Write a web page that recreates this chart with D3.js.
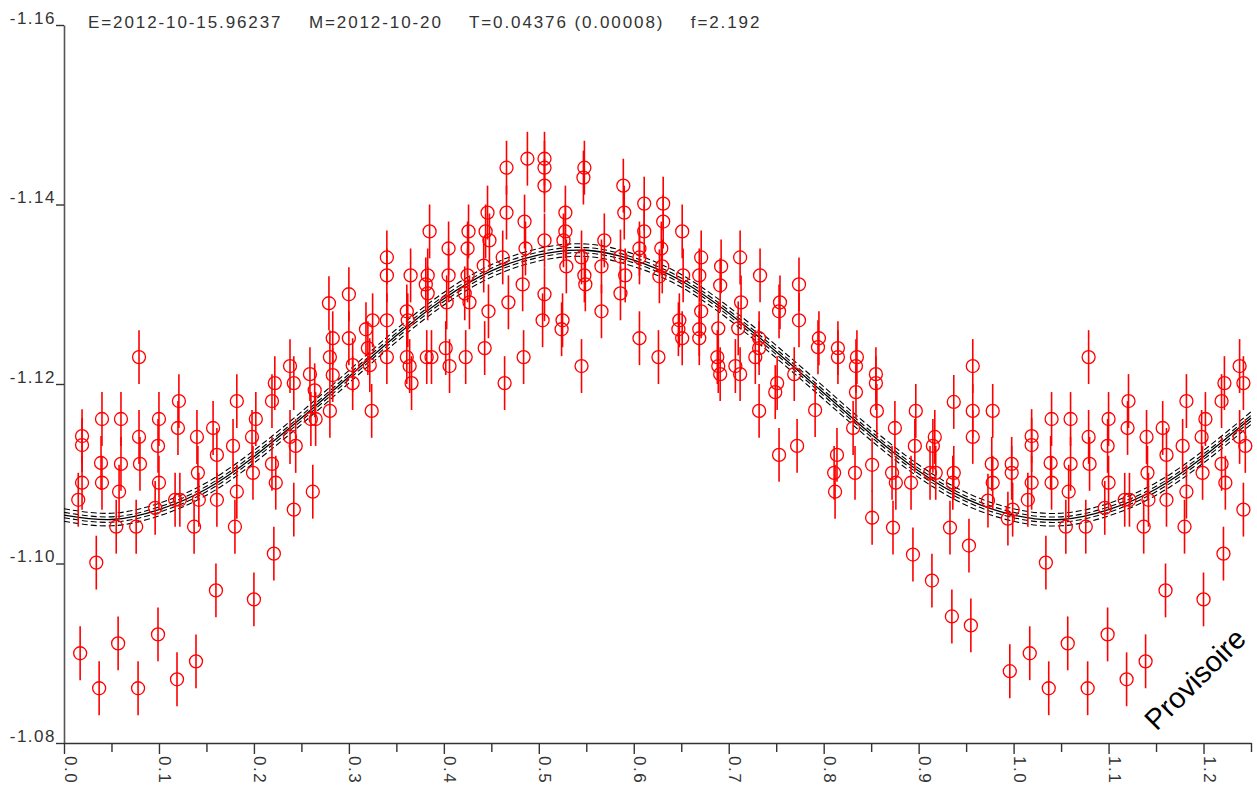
<!DOCTYPE html>
<html>
<head>
<meta charset="utf-8">
<script src="https://cdn.jsdelivr.net/npm/d3@7"></script>
<style>
body { margin: 0; background: #fff; }
svg { display: block; font-family: "Liberation Sans", Arial, sans-serif; }
</style>
</head>
<body>
<div id="vis"></div>
<script>
// phase of each measurement (one cycle, 0..1)
var phases = [
  0.015,0.017,0.019,0.019,0.019,0.034,0.037,0.040,0.039,0.040,
  0.055,0.057,0.060,0.060,0.058,0.076,0.078,0.079,0.079,0.080,
  0.096,0.099,0.100,0.099,0.100,0.119,0.117,0.122,0.121,0.120,
  0.137,0.139,0.140,0.141,0.142,0.157,0.161,0.161,0.160,0.178,
  0.182,0.180,0.182,0.198,0.199,0.202,0.200,0.219,0.219,0.222,
  0.223,0.221,0.238,0.242,0.238,0.244,0.242,0.259,0.264,0.260,
  0.265,0.262,0.279,0.283,0.280,0.283,0.280,0.300,0.300,0.304,
  0.304,0.318,0.325,0.320,0.322,0.324,0.340,0.340,0.340,0.340,
  0.361,0.362,0.365,0.361,0.364,0.366,0.383,0.381,0.383,0.382,
  0.387,0.385,0.405,0.405,0.403,0.402,0.406,0.426,0.425,0.425,
  0.422,0.427,0.423,0.446,0.444,0.448,0.442,0.447,0.443,0.466,
  0.466,0.462,0.468,0.464,0.488,0.485,0.486,0.483,0.484,0.506,
  0.506,0.506,0.506,0.506,0.504,0.528,0.528,0.526,0.529,0.525,
  0.524,0.548,0.547,0.545,0.548,0.549,0.545,0.569,0.566,0.566,
  0.589,0.590,0.586,0.591,0.586,0.611,0.611,0.606,0.606,0.606,
  0.631,0.631,0.629,0.630,0.627,0.626,0.651,0.652,0.648,0.647,
  0.651,0.671,0.669,0.671,0.669,0.669,0.692,0.691,0.689,0.688,
  0.689,0.691,0.712,0.713,0.710,0.707,0.712,0.733,0.732,0.732,
  0.728,0.732,0.754,0.753,0.751,0.749,0.753,0.774,0.774,0.769,
  0.772,0.795,0.794,0.791,0.815,0.815,0.814,0.811,0.812,0.835,
  0.834,0.834,0.831,0.833,0.851,0.851,0.855,0.855,0.856,0.875,
  0.872,0.876,0.873,0.897,0.896,0.892,0.894,0.917,0.915,0.912,
  0.918,0.914,0.937,0.937,0.936,0.933,0.935,0.957,0.957,0.957,
  0.953,0.955,0.978,0.977,0.978,0.973,0.998,0.998,0.999,0.994,
  0.996
];

// measured value for each phase above (same order)
var mags = [
  -1.1071,-1.0900,-1.1142,-1.1132,-1.1090,-1.1001,-1.0861,-1.1161,-1.1112,-1.1090,
  -1.1041,-1.0911,-1.1161,-1.1111,-1.1080,-1.1041,-1.0861,-1.1230,-1.1141,-1.1111,
  -1.1062,-1.0921,-1.1161,-1.1131,-1.1090,-1.0871,-1.1071,-1.1071,-1.1181,-1.1151,
  -1.1041,-1.0891,-1.1141,-1.1101,-1.1071,-1.1151,-1.1121,-1.1071,-1.0970,-1.1131,
  -1.1080,-1.1041,-1.1181,-1.1141,-1.1101,-1.1161,-1.0960,-1.1181,-1.1111,-1.1201,
  -1.1090,-1.1011,-1.1220,-1.1201,-1.1141,-1.1131,-1.1060,-1.1211,-1.1193,-1.1161,
  -1.1161,-1.1080,-1.1290,-1.1251,-1.1230,-1.1210,-1.1170,-1.1300,-1.1251,-1.1221,
  -1.1201,-1.1261,-1.1271,-1.1240,-1.1221,-1.1170,-1.1341,-1.1321,-1.1271,-1.1230,
  -1.1281,-1.1271,-1.1321,-1.1230,-1.1220,-1.1201,-1.1321,-1.1311,-1.1301,-1.1230,
  -1.1230,-1.1370,-1.1351,-1.1321,-1.1291,-1.1240,-1.1220,-1.1370,-1.1351,-1.1321,
  -1.1301,-1.1291,-1.1230,-1.1391,-1.1370,-1.1360,-1.1332,-1.1281,-1.1240,-1.1441,
  -1.1391,-1.1341,-1.1291,-1.1201,-1.1451,-1.1381,-1.1351,-1.1311,-1.1230,-1.1451,
  -1.1441,-1.1421,-1.1360,-1.1300,-1.1271,-1.1391,-1.1370,-1.1360,-1.1331,-1.1271,
  -1.1261,-1.1441,-1.1430,-1.1341,-1.1321,-1.1311,-1.1220,-1.1360,-1.1331,-1.1281,
  -1.1421,-1.1391,-1.1342,-1.1321,-1.1301,-1.1401,-1.1370,-1.1351,-1.1341,-1.1251,
  -1.1401,-1.1381,-1.1351,-1.1331,-1.1320,-1.1230,-1.1370,-1.1321,-1.1271,-1.1261,
  -1.1251,-1.1341,-1.1321,-1.1281,-1.1261,-1.1251,-1.1331,-1.1310,-1.1262,-1.1230,
  -1.1220,-1.1211,-1.1341,-1.1291,-1.1262,-1.1220,-1.1211,-1.1321,-1.1251,-1.1240,
  -1.1230,-1.1170,-1.1291,-1.1281,-1.1201,-1.1191,-1.1121,-1.1311,-1.1271,-1.1211,
  -1.1131,-1.1251,-1.1241,-1.1171,-1.1240,-1.1230,-1.1121,-1.1101,-1.1080,-1.1230,
  -1.1220,-1.1191,-1.1151,-1.1101,-1.1110,-1.1051,-1.1211,-1.1201,-1.1170,-1.1151,
  -1.1101,-1.1090,-1.1040,-1.1170,-1.1131,-1.1090,-1.1010,-1.1141,-1.1131,-1.1101,
  -1.1101,-1.0981,-1.1180,-1.1101,-1.1090,-1.1040,-1.0941,-1.1220,-1.1170,-1.1141,
  -1.1020,-1.0931,-1.1170,-1.1111,-1.1090,-1.1070,-1.1111,-1.1101,-1.1060,-1.1050,
  -1.0880
];

var err_bar = 0.003;

// fitted curve
var fit_phase = [0.00,0.05,0.10,0.15,0.20,0.25,0.30,0.35,0.40,0.45,0.50,0.55,0.60,
                 0.65,0.70,0.75,0.80,0.85,0.90,0.95,1.00,1.05,1.10,1.15,1.20,1.25];
var fit_mag = [-1.1054,-1.1049,-1.1060,-1.1083,-1.1119,-1.1162,-1.1208,-1.1254,-1.1295,
               -1.1326,-1.1344,-1.1349,-1.1338,-1.1315,-1.1279,-1.1236,-1.1190,-1.1144,
               -1.1103,-1.1072,-1.1054,-1.1049,-1.1060,-1.1083,-1.1119,-1.1162];
var band_offsets = [-0.0007, -0.0003, 0.0003, 0.0007];

var x_ticks = [0.0,0.1,0.2,0.3,0.4,0.5,0.6,0.7,0.8,0.9,1.0,1.1,1.2];
var x_minor = [0.05,0.15,0.25,0.35,0.45,0.55,0.65,0.75,0.85,0.95,1.05,1.15,1.25];
var y_ticks = [-1.16,-1.14,-1.12,-1.10,-1.08];

var header = "E=2012-10-15.96237    M=2012-10-20    T=0.04376 (0.00008)    f=2.192";
var stamp = "Provisoire";

var width = 1257, height = 791;
var margin = {top: 25, bottom: 48, left: 64, right: 6};

var svg = d3.select('#vis')
    .append('svg')
    .attr('width', width)
    .attr('height', height);

var x_scale = d3.scaleLinear()
    .domain([0, 1.25])
    .range([margin.left, width - margin.right]);

var y_scale = d3.scaleLinear()
    .domain([-1.16, -1.08])
    .range([margin.top, height - margin.bottom]);

// points, with the first quarter of the cycle repeated after phase 1
var points = phases.map(function(p, i) {
    return {phase: p, mag: mags[i]};
});
phases.forEach(function(p, i) {
    if (p + 1 <= 1.25) points.push({phase: p + 1, mag: mags[i]});
});

// axes
var y_axis = d3.axisLeft(y_scale)
    .tickValues(y_ticks)
    .tickSize(8)
    .tickSizeOuter(0)
    .tickFormat(function(d) { return d.toFixed(2); });

var gy = svg.append('g')
    .attr('class', 'y axis')
    .attr('transform', 'translate(' + margin.left + ',0)')
    .call(y_axis);
gy.select('.domain').attr('stroke', '#555').attr('stroke-width', 1.6);
gy.selectAll('.tick line').attr('stroke', '#333').attr('stroke-width', 1.4);
gy.selectAll('.tick text')
    .attr('x', -8)
    .attr('dy', '-2')
    .style('font-size', '17px')
    .style('letter-spacing', '1.5px')
    .style('fill', '#333');

var x_axis = d3.axisBottom(x_scale)
    .tickValues(x_ticks)
    .tickSize(11)
    .tickSizeOuter(0)
    .tickFormat(function(d) { return d.toFixed(1); });

var x_axis_minor = d3.axisBottom(x_scale)
    .tickValues(x_minor)
    .tickSize(9)
    .tickSizeOuter(0)
    .tickFormat('');

var gxm = svg.append('g')
    .attr('transform', 'translate(0,' + (height - margin.bottom) + ')')
    .call(x_axis_minor);
gxm.select('.domain').remove();
gxm.selectAll('.tick line').attr('stroke', '#333').attr('stroke-width', 1.4);

var gx = svg.append('g')
    .attr('class', 'x axis')
    .attr('transform', 'translate(0,' + (height - margin.bottom) + ')')
    .call(x_axis);
gx.select('.domain').attr('stroke', '#333').attr('stroke-width', 1.6);
gx.selectAll('.tick line').attr('stroke', '#333').attr('stroke-width', 1.4);
gx.selectAll('.tick text')
    .attr('transform', 'rotate(90)')
    .attr('x', 13)
    .attr('y', 0)
    .attr('dy', '0')
    .style('text-anchor', 'start')
    .style('font-size', '17px')
    .style('letter-spacing', '1.5px')
    .style('fill', '#333');

// fitted curve and its envelope
var fit = fit_phase.map(function(p, i) { return {phase: p, mag: fit_mag[i]}; });

band_offsets.forEach(function(off) {
    svg.append('path')
        .datum(fit)
        .attr('fill', 'none')
        .attr('stroke', '#000')
        .attr('stroke-width', 1.1)
        .attr('stroke-dasharray', '6,3')
        .attr('d', d3.line()
            .curve(d3.curveNatural)
            .x(function(d) { return x_scale(d.phase); })
            .y(function(d) { return y_scale(d.mag + off); }));
});

svg.append('path')
    .datum(fit)
    .attr('fill', 'none')
    .attr('stroke', '#000')
    .attr('stroke-width', 1.3)
    .attr('d', d3.line()
        .curve(d3.curveNatural)
        .x(function(d) { return x_scale(d.phase); })
        .y(function(d) { return y_scale(d.mag); }));

// error bars
svg.selectAll('.err')
    .data(points)
    .enter()
    .append('line')
    .attr('class', 'err')
    .attr('x1', function(d) { return x_scale(d.phase); })
    .attr('x2', function(d) { return x_scale(d.phase); })
    .attr('y1', function(d) { return y_scale(d.mag - err_bar); })
    .attr('y2', function(d) { return y_scale(d.mag + err_bar); })
    .attr('stroke', '#ff0000')
    .attr('stroke-width', 1.6);

svg.selectAll('.pt')
    .data(points)
    .enter()
    .append('circle')
    .attr('class', 'pt')
    .attr('cx', function(d) { return x_scale(d.phase); })
    .attr('cy', function(d) { return y_scale(d.mag); })
    .attr('r', 6.5)
    .attr('fill', 'none')
    .attr('stroke', '#ff0000')
    .attr('stroke-width', 1.3);

// header line
svg.append('text')
    .attr('x', 88)
    .attr('y', 28)
    .style('white-space', 'pre')
    .style('font-size', '17px')
    .style('letter-spacing', '1.9px')
    .style('fill', '#333')
    .text(header);

svg.append('text')
    .attr('transform', 'translate(1195,679) rotate(-45)')
    .attr('dy', '0.35em')
    .style('text-anchor', 'middle')
    .style('font-size', '29px')
    .style('fill', '#000')
    .text(stamp);
</script>
</body>
</html>
